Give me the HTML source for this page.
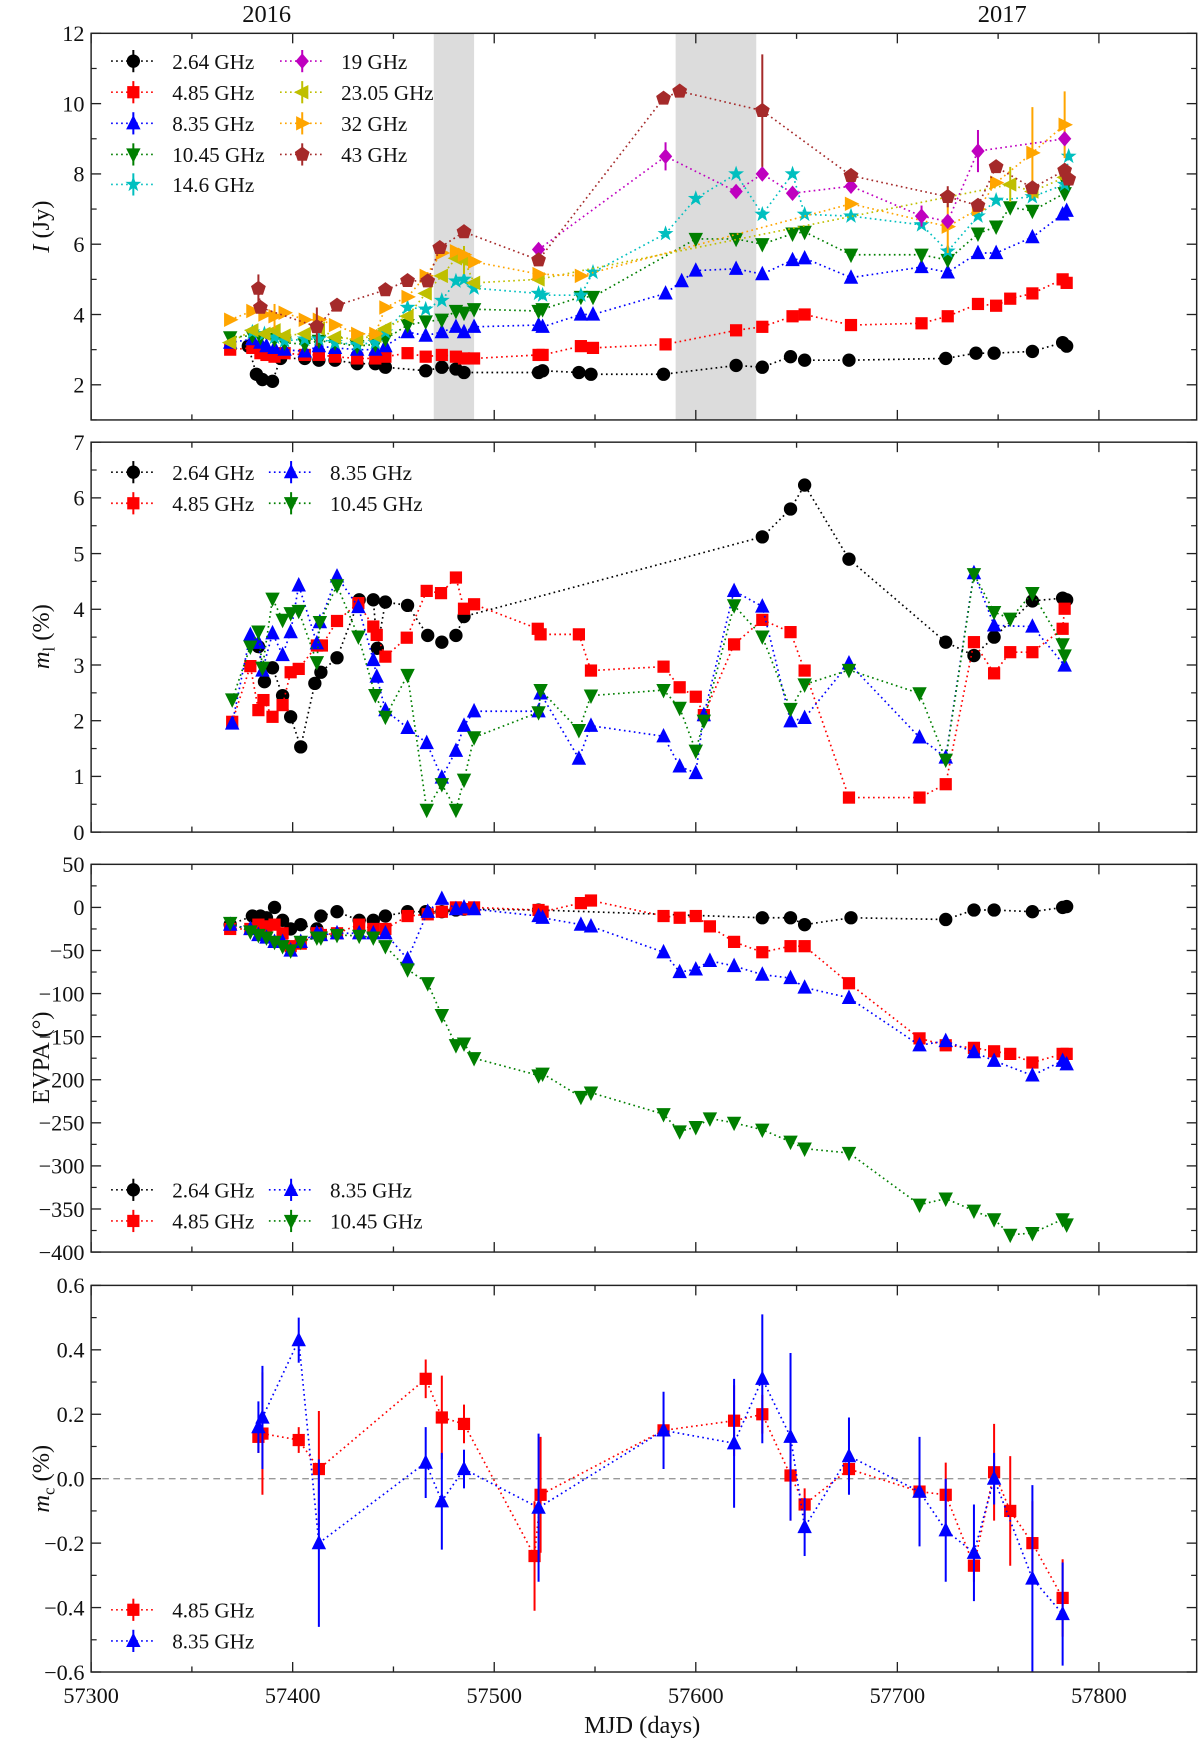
<!DOCTYPE html>
<html><head><meta charset="utf-8"><style>
html,body{margin:0;padding:0;background:#fff}
svg{display:block}
text{font-family:"Liberation Serif",serif;fill:#111}
</style></head><body>
<svg id="chart" width="1200" height="1742" viewBox="0 0 1080 1568" preserveAspectRatio="none" xmlns="http://www.w3.org/2000/svg"></svg>
<script>
// ---------- data ----------
const xTicks=[57300,57400,57500,57600,57700,57800];
const shadeRanges=[[57470,57490],[57590,57630]];
// Panel 1: I (Jy)
const i264_t=[57378,57382,57385,57390,57394,57406,57413,57421,57432,57441,57446,57466,57474,57481,57485,57522,57524,57542,57548,57584,57620,57633,57647,57654,57676,57724,57739,57748,57767,57782,57784];
const i264_v=[3.1,2.3,2.15,2.1,2.75,2.75,2.7,2.7,2.6,2.6,2.5,2.4,2.5,2.45,2.35,2.35,2.4,2.35,2.3,2.3,2.55,2.5,2.8,2.7,2.7,2.75,2.9,2.9,2.95,3.2,3.1];
const i485_t=[57369,57380,57384,57387,57391,57396,57406,57413,57421,57432,57441,57446,57457,57466,57474,57481,57485,57490,57522,57524,57543,57549,57585,57620,57633,57648,57654,57677,57712,57725,57740,57749,57756,57767,57782,57784];
const i485_v=[3.0,3.05,2.9,2.85,2.8,2.9,2.85,2.85,2.8,2.75,2.75,2.8,2.9,2.8,2.85,2.8,2.75,2.75,2.85,2.85,3.1,3.05,3.15,3.55,3.65,3.95,4.0,3.7,3.75,3.95,4.3,4.25,4.45,4.6,5.0,4.9];
const i835_t=[57369,57380,57384,57387,57391,57396,57406,57413,57421,57432,57441,57446,57457,57466,57474,57481,57485,57490,57522,57524,57543,57549,57585,57593,57600,57620,57633,57648,57654,57677,57712,57725,57740,57749,57767,57782,57784];
const i835_v=[3.2,3.3,3.2,3.1,3.05,3.0,2.95,3.1,3.05,3.0,3.0,3.1,3.5,3.4,3.5,3.65,3.5,3.65,3.7,3.65,4.0,4.0,4.6,4.95,5.25,5.3,5.15,5.55,5.6,5.05,5.35,5.2,5.75,5.75,6.2,6.85,6.95];
const i1045_t=[57369,57380,57384,57391,57396,57406,57413,57421,57432,57441,57446,57457,57466,57474,57481,57485,57490,57522,57524,57543,57549,57600,57620,57633,57648,57654,57677,57712,57725,57740,57749,57756,57767,57783,57784];
const i1045_v=[3.35,3.4,3.35,3.3,3.2,3.15,3.25,3.2,3.1,3.15,3.3,3.7,3.8,3.85,4.1,4.05,4.15,4.1,4.15,4.5,4.5,6.15,6.15,6.0,6.3,6.35,5.7,5.7,5.55,6.3,6.5,7.05,6.95,7.45,7.7];
const i146_t=[57380,57386,57391,57396,57406,57413,57421,57432,57441,57446,57457,57466,57474,57481,57485,57490,57522,57524,57543,57549,57585,57600,57620,57633,57648,57654,57677,57712,57725,57740,57749,57767,57783,57785];
const i146_v=[3.5,3.45,3.35,3.25,3.3,3.3,3.2,3.15,3.2,3.5,4.2,4.15,4.4,4.95,5.0,4.75,4.6,4.55,4.55,5.2,6.3,7.3,8.0,6.85,8.0,6.85,6.8,6.55,5.8,6.8,7.25,7.35,7.7,8.5];
const i19_t=[57522,57585,57620,57633,57648,57677,57712,57725,57740,57783];
const i19_v=[5.85,8.5,7.5,8.0,7.45,7.65,6.8,6.65,8.65,9.0];
const i2305_t=[57369,57380,57386,57391,57396,57406,57413,57421,57432,57441,57446,57457,57466,57474,57481,57485,57490,57522,57756,57767,57783];
const i2305_v=[3.2,3.55,3.45,3.55,3.4,3.45,3.6,3.35,3.3,3.4,3.6,3.95,4.6,5.1,5.6,5.55,4.9,5.0,7.7,7.5,7.9];
const i32_t=[57369,57380,57386,57391,57396,57406,57413,57421,57432,57441,57446,57457,57466,57474,57481,57485,57490,57522,57543,57677,57725,57740,57749,57767,57783];
const i32_v=[3.85,4.1,4.0,3.95,4.05,3.85,3.85,3.7,3.45,3.45,4.2,4.5,5.1,5.75,5.8,5.7,5.5,5.15,5.1,7.15,6.5,7.0,7.75,8.6,9.4];
const i43_t=[57383,57384,57412,57422,57446,57457,57467,57473,57485,57522,57584,57592,57633,57677,57725,57740,57749,57767,57783,57785];
const i43_v=[4.74,4.2,3.65,4.26,4.7,4.96,4.95,5.9,6.35,5.55,10.15,10.35,9.8,7.95,7.35,7.1,8.2,7.6,8.1,7.85];
// Panel 2: m_l (%)
const ml264_t=[57383,57386,57390,57395,57399,57404,57411,57414,57422,57433,57440,57442,57446,57457,57467,57474,57481,57485,57633,57647,57654,57676,57724,57738,57748,57767,57782,57784];
const ml264_v=[3.33,2.7,2.95,2.45,2.07,1.53,2.67,2.87,3.13,4.17,4.17,3.3,4.13,4.07,3.53,3.41,3.53,3.87,5.3,5.8,6.23,4.9,3.41,3.17,3.5,4.15,4.2,4.17];
const ml485_t=[57370,57379,57383,57385.5,57390,57395,57399,57403,57412,57414.5,57422,57432.6,57440,57441.7,57446,57456.6,57466.5,57473.6,57481,57485,57490,57521.6,57523,57542,57548,57584,57592,57600,57604,57619,57633,57647,57654,57676,57711,57724,57738,57748,57756,57767,57782,57783];
const ml485_v=[1.98,2.98,2.19,2.37,2.07,2.28,2.87,2.93,3.35,3.35,3.79,4.11,3.69,3.54,3.15,3.49,4.33,4.29,4.57,4.01,4.09,3.65,3.55,3.55,2.9,2.97,2.6,2.43,2.1,3.37,3.81,3.59,2.9,0.62,0.62,0.86,3.41,2.85,3.23,3.23,3.65,4.01];
const ml835_t=[57370,57379,57383,57385,57390,57395,57399,57403,57412,57413.5,57422,57432.6,57440,57441.7,57446,57457,57466.5,57474,57481,57485,57490,57522,57523,57542,57548,57584,57592,57600,57604,57619,57633,57647,57654,57676,57711,57724,57738,57748,57767,57783];
const ml835_v=[1.95,3.54,3.4,2.9,3.57,3.18,3.59,4.43,3.39,3.77,4.59,4.04,3.09,2.79,2.19,1.87,1.6,0.98,1.46,1.91,2.17,2.17,2.49,1.32,1.91,1.72,1.18,1.06,2.1,4.33,4.05,1.99,2.05,3.03,1.7,1.34,4.65,3.71,3.69,2.99];
const ml1045_t=[57370,57379,57383,57385,57390,57395,57399,57403,57412,57413.5,57422,57432.6,57441,57446,57457,57466.5,57474,57481,57485,57490,57522,57523,57542,57548,57584,57592,57600,57604,57619,57633,57647,57654,57676,57711,57724,57738,57748,57756,57767,57782,57783];
const ml1045_v=[2.38,3.33,3.6,2.95,4.19,3.81,3.93,3.97,3.05,3.77,4.43,3.51,2.46,2.07,2.82,0.4,0.86,0.4,0.94,1.7,2.15,2.55,1.83,2.45,2.55,2.23,1.46,2.0,4.07,3.51,2.21,2.65,2.91,2.49,1.3,4.63,3.95,3.83,4.29,3.37,3.17];
// Panel 3: EVPA (deg)
const ev264_t=[57369,57380,57384,57387,57391,57395,57399,57404,57412,57414,57422,57433,57440,57446,57457,57466,57474,57481,57485,57522,57633,57647,57654,57677,57724,57738,57748,57767,57782,57784];
const ev264_v=[-20,-10,-10,-12,0,-15,-25,-20,-25,-10,-5,-15,-15,-10,-5,-5,-5,-3,-2,-3,-12,-12,-20,-12,-14,-3,-3,-5,0,1];
const ev485_t=[57369,57379,57383,57387,57391,57395,57399,57404,57412,57414,57422,57433,57440,57446,57457,57467,57474,57481,57485,57490,57522,57524,57543,57548,57584,57592,57600,57607,57619,57633,57647,57654,57676,57711,57724,57738,57748,57756,57767,57782,57784];
const ev485_v=[-25,-25,-20,-22,-20,-30,-45,-42,-30,-32,-30,-20,-25,-25,-10,-8,-5,0,-2,0,-3,-5,5,8,-10,-12,-10,-22,-40,-52,-45,-45,-88,-152,-160,-163,-167,-170,-180,-170,-170];
const ev835_t=[57369,57379,57383,57387,57391,57395,57399,57404,57412,57414,57422,57433,57440,57446,57457,57467,57474,57481,57485,57490,57522,57524,57543,57548,57584,57592,57600,57607,57619,57633,57647,57654,57676,57711,57724,57738,57748,57767,57782,57784];
const ev835_v=[-20,-25,-32,-35,-40,-40,-50,-40,-30,-32,-30,-30,-30,-30,-60,-5,10,-2,0,-2,-10,-12,-20,-22,-52,-75,-72,-62,-68,-78,-82,-93,-105,-160,-155,-168,-178,-195,-178,-182];
const ev1045_t=[57369,57379,57383,57387,57391,57395,57399,57404,57412,57414,57422,57433,57440,57446,57457,57467,57474,57481,57485,57490,57522,57524,57543,57548,57584,57592,57600,57607,57619,57633,57647,57654,57676,57711,57724,57738,57748,57756,57767,57782,57784];
const ev1045_v=[-18,-28,-32,-35,-40,-45,-50,-40,-35,-35,-32,-33,-35,-45,-72,-88,-125,-160,-158,-175,-195,-193,-220,-215,-240,-260,-255,-245,-250,-258,-272,-280,-285,-345,-338,-352,-362,-380,-378,-362,-368];
// Panel 4: m_c (%)
const mc485_t=[57383,57385,57403,57413,57466,57474,57485,57520,57523,57584,57619,57633,57647,57654,57676,57711,57724,57738,57748,57756,57767,57782];
const mc485_v=[0.13,0.14,0.12,0.03,0.31,0.19,0.17,-0.24,-0.05,0.15,0.18,0.2,0.01,-0.08,0.03,-0.04,-0.05,-0.27,0.02,-0.1,-0.2,-0.37];
const mc485_e=[0.05,0.19,0.04,0.18,0.06,0.13,0.06,0.17,0.18,0.03,0.11,0.06,0.14,0.05,0.04,0.05,0.1,0.05,0.15,0.17,0.13,0.12];
const mc835_t=[57383,57385,57403,57413,57466,57474,57485,57522,57584,57619,57633,57647,57654,57676,57711,57724,57738,57748,57767,57782];
const mc835_v=[0.16,0.19,0.43,-0.2,0.05,-0.07,0.03,-0.09,0.15,0.11,0.31,0.13,-0.15,0.07,-0.04,-0.16,-0.23,0,-0.31,-0.42];
const mc835_e=[0.08,0.16,0.07,0.26,0.11,0.15,0.06,0.23,0.12,0.2,0.2,0.26,0.09,0.12,0.17,0.16,0.15,0.08,0.29,0.16];
// Panel-1 error bars: [series, index, err]
const i_errs=[["i43",0,0.4],["i43",2,0.55],["i43",12,1.6],["i43",14,0.3],["i19",1,0.4],["i19",8,0.6],["i32",20,0.75],["i32",23,1.3],["i32",24,0.95],["i2305",18,0.5],["i32",3,0.35],["i2305",15,0.4],["i19",6,0.3]];

// ---------- drawing ----------
const svg=document.getElementById('chart');
const NS='http://www.w3.org/2000/svg';
function mk(tag,at,parent){const e=document.createElementNS(NS,tag);for(const k in at)e.setAttribute(k,at[k]);(parent||svg).appendChild(e);return e;}
const X0=82,X1=1077,XMIN=57300,XMAX=57848.5;
const xs=t=>X0+(t-XMIN)/(XMAX-XMIN)*(X1-X0);
const panels=[
 {name:'flux-panel',top:30,bot:378,min:1,max:12,major:[2,4,6,8,10,12],minor:[1,3,5,7,9,11],fmt:v=>String(v)},
 {name:'linpol-panel',top:398,bot:749,min:0,max:7,major:[0,1,2,3,4,5,6,7],minor:[0.5,1.5,2.5,3.5,4.5,5.5,6.5],fmt:v=>String(v)},
 {name:'evpa-panel',top:778,bot:1127,min:-400,max:50,major:[50,0,-50,-100,-150,-200,-250,-300,-350,-400],minor:[25,-25,-75,-125,-175,-225,-275,-325,-375],fmt:v=>v<0?'\u2212'+(-v):String(v)},
 {name:'circpol-panel',top:1157,bot:1505,min:-0.6,max:0.6,major:[-0.6,-0.4,-0.2,0,0.2,0.4,0.6],minor:[-0.5,-0.3,-0.1,0.1,0.3,0.5],fmt:v=>(v<0?'\u2212':'')+Math.abs(v).toFixed(1)}
];
panels.forEach(p=>{p.ys=v=>p.bot-(v-p.min)/(p.max-p.min)*(p.bot-p.top);});

function markerShape(kind,x,y,color,g){
 const s=6.5;let el;
 if(kind==='o')el=mk('circle',{cx:x,cy:y,r:6},g);
 else if(kind==='s')el=mk('rect',{x:x-5.5,y:y-5.5,width:11,height:11},g);
 else{let pts;
  if(kind==='^')pts=[[0,-s-1],[s,s-1],[-s,s-1]];
  else if(kind==='v')pts=[[0,s+1],[s,-s+1],[-s,-s+1]];
  else if(kind==='<')pts=[[-s-1,0],[s-1,-s],[s-1,s]];
  else if(kind==='>')pts=[[s+1,0],[-s+1,-s],[-s+1,s]];
  else if(kind==='D')pts=[[0,-7],[6,0],[0,7],[-6,0]];
  else if(kind==='p'){pts=[];for(let i=0;i<5;i++){const a=-Math.PI/2+i*2*Math.PI/5;pts.push([7*Math.cos(a),7*Math.sin(a)]);}}
  else if(kind==='*'){pts=[];for(let i=0;i<10;i++){const a=-Math.PI/2+i*Math.PI/5,r=i%2?3:7.5;pts.push([r*Math.cos(a),r*Math.sin(a)]);}}
  el=mk('polygon',{points:pts.map(q=>(x+q[0])+','+(y+q[1])).join(' ')},g);}
 el.setAttribute('fill',color);
 return el;
}

// shading (panel 1)
const p1=panels[0];
shadeRanges.forEach((r,i)=>{
 const el=mk('rect',{x:xs(r[0]),y:p1.top,width:xs(r[1])-xs(r[0]),height:p1.bot-p1.top,fill:'#dcdcdc'});
 
 
});
// zero line panel 4
const p4=panels[3];
const zl=mk('line',{x1:X0,x2:X1,y1:p4.ys(0),y2:p4.ys(0),stroke:'#999',"stroke-width":1.2,"stroke-dasharray":'6,4'});



function drawSeries(p,name,t,v,color,kind,errs){
 const g=mk('g',{});
 
 
 const pts=t.map((tt,i)=>[xs(tt),p.ys(v[i])]);
 mk('polyline',{points:pts.map(q=>q.join(',')).join(' '),fill:'none',stroke:color,"stroke-width":1.5,"stroke-dasharray":'1.5,3'},g);
 if(errs){errs.forEach((e,i)=>{if(e>0)mk('line',{x1:pts[i][0],x2:pts[i][0],y1:p.ys(v[i]-e),y2:p.ys(v[i]+e),stroke:color,"stroke-width":1.8},g);});}
 pts.forEach((q,i)=>{const m=markerShape(kind,q[0],q[1],color,g);
  
  });
 return g;
}
const C={k:'#000',r:'#ff0000',b:'#0000ff',g:'#007f00',c:'#00bfbf',m:'#bf00bf',y:'#bfbf00',o:'#ffa500',br:'#a52a2a'};
const seriesMap={i264:[i264_t,i264_v],i485:[i485_t,i485_v],i835:[i835_t,i835_v],i1045:[i1045_t,i1045_v],i146:[i146_t,i146_v],i19:[i19_t,i19_v],i2305:[i2305_t,i2305_v],i32:[i32_t,i32_v],i43:[i43_t,i43_v]};
function errArr(key){const a=new Array(seriesMap[key][0].length).fill(0);i_errs.forEach(e=>{if(e[0]===key)a[e[1]]=e[2];});return a;}
drawSeries(p1,'flux-2-64ghz',i264_t,i264_v,C.k,'o',errArr('i264'));
drawSeries(p1,'flux-4-85ghz',i485_t,i485_v,C.r,'s',errArr('i485'));
drawSeries(p1,'flux-8-35ghz',i835_t,i835_v,C.b,'^',errArr('i835'));
drawSeries(p1,'flux-10-45ghz',i1045_t,i1045_v,C.g,'v',errArr('i1045'));
drawSeries(p1,'flux-14-6ghz',i146_t,i146_v,C.c,'*',errArr('i146'));
drawSeries(p1,'flux-23-05ghz',i2305_t,i2305_v,C.y,'<',errArr('i2305'));
drawSeries(p1,'flux-32ghz',i32_t,i32_v,C.o,'>',errArr('i32'));
drawSeries(p1,'flux-19ghz',i19_t,i19_v,C.m,'D',errArr('i19'));
drawSeries(p1,'flux-43ghz',i43_t,i43_v,C.br,'p',errArr('i43'));
const p2=panels[1];
drawSeries(p2,'linpol-2-64ghz',ml264_t,ml264_v,C.k,'o',null);
drawSeries(p2,'linpol-4-85ghz',ml485_t,ml485_v,C.r,'s',null);
drawSeries(p2,'linpol-8-35ghz',ml835_t,ml835_v,C.b,'^',null);
drawSeries(p2,'linpol-10-45ghz',ml1045_t,ml1045_v,C.g,'v',null);
const p3=panels[2];
drawSeries(p3,'evpa-2-64ghz',ev264_t,ev264_v,C.k,'o',null);
drawSeries(p3,'evpa-4-85ghz',ev485_t,ev485_v,C.r,'s',null);
drawSeries(p3,'evpa-8-35ghz',ev835_t,ev835_v,C.b,'^',null);
drawSeries(p3,'evpa-10-45ghz',ev1045_t,ev1045_v,C.g,'v',null);
drawSeries(p4,'circpol-4-85ghz',mc485_t,mc485_v,C.r,'s',mc485_e);
drawSeries(p4,'circpol-8-35ghz',mc835_t,mc835_v,C.b,'^',mc835_e);

// axes frames and ticks
panels.forEach((p,pi)=>{
 const g=mk('g',{});
 
 
 mk('rect',{x:X0,y:p.top,width:X1-X0,height:p.bot-p.top,fill:'none',stroke:'#222',"stroke-width":1.3},g);
 for(let t=57300;t<=57850;t+=50){const x=xs(t);if(x>X1)break;const L=(t%100===0)?9:5;
  mk('line',{x1:x,x2:x,y1:p.bot,y2:p.bot-L,stroke:'#222',"stroke-width":1.2},g);
  mk('line',{x1:x,x2:x,y1:p.top,y2:p.top+L,stroke:'#222',"stroke-width":1.2},g);}
 p.major.forEach(v=>{const y=p.ys(v);
  mk('line',{x1:X0,x2:X0+9,y1:y,y2:y,stroke:'#222',"stroke-width":1.2},g);
  mk('line',{x1:X1,x2:X1-9,y1:y,y2:y,stroke:'#222',"stroke-width":1.2},g);
  const tx=mk('text',{x:X0-6,y:y+7,"text-anchor":'end',"font-size":20},g);tx.textContent=p.fmt(v);
  
  });
 p.minor.forEach(v=>{const y=p.ys(v);
  mk('line',{x1:X0,x2:X0+5,y1:y,y2:y,stroke:'#222',"stroke-width":1.1},g);
  mk('line',{x1:X1,x2:X1-5,y1:y,y2:y,stroke:'#222',"stroke-width":1.1},g);});
});
// x tick labels (bottom panel)
xTicks.forEach(t=>{const tx=mk('text',{x:xs(t),y:1533,"text-anchor":'middle',"font-size":20});tx.textContent=String(t);
 
 });
function label(txt,x,y,rot,name,size){const t=mk('text',{x:x,y:y,"text-anchor":'middle',"font-size":size||22,transform:rot?`rotate(-90 ${x} ${y})`:''});t.innerHTML=txt;
 
 return t;}
label('MJD (days)',578,1560,false,'x-axis-title');
label('<tspan font-style="italic">I</tspan> (Jy)',44,204,true,'y-axis-title-flux');
label('<tspan font-style="italic">m</tspan><tspan font-size="15" dy="5">l</tspan><tspan dy="-5"> (%)</tspan>',44,573,true,'y-axis-title-linpol');
label('EVPA (°)',44,952,true,'y-axis-title-evpa');
label('<tspan font-style="italic">m</tspan><tspan font-size="15" dy="5">c</tspan><tspan dy="-5"> (%)</tspan>',44,1331,true,'y-axis-title-circpol');
label('2016',240,20,false,'year-label-2016');
label('2017',902,20,false,'year-label-2017');

// legends
function legendEntry(x,y,color,kind,txt){
 const g=mk('g',{});
 
 
 mk('line',{x1:x-20,x2:x+20,y1:y,y2:y,stroke:color,"stroke-width":1.5,"stroke-dasharray":'1.5,3'},g);
 mk('line',{x1:x,x2:x,y1:y-10,y2:y+10,stroke:color,"stroke-width":1.8},g);
 markerShape(kind,x,y,color,g);
 const t=mk('text',{x:x+35,y:y+7,"font-size":19},g);t.textContent=txt;
}
[[120,55,C.k,'o','2.64 GHz'],[120,83,C.r,'s','4.85 GHz'],[120,111,C.b,'^','8.35 GHz'],[120,139,C.g,'v','10.45 GHz'],[120,166,C.c,'*','14.6 GHz'],
 [272,55,C.m,'D','19 GHz'],[272,83,C.y,'<','23.05 GHz'],[272,111,C.o,'>','32 GHz'],[272,139,C.br,'p','43 GHz']].forEach(e=>legendEntry(...e));
[[120,425,C.k,'o','2.64 GHz'],[120,453,C.r,'s','4.85 GHz'],[262,425,C.b,'^','8.35 GHz'],[262,453,C.g,'v','10.45 GHz']].forEach(e=>legendEntry(...e));
[[120,1071,C.k,'o','2.64 GHz'],[120,1099,C.r,'s','4.85 GHz'],[262,1071,C.b,'^','8.35 GHz'],[262,1099,C.g,'v','10.45 GHz']].forEach(e=>legendEntry(...e));
[[120,1449,C.r,'s','4.85 GHz'],[120,1477,C.b,'^','8.35 GHz']].forEach(e=>legendEntry(...e));
</script>
</body></html>
